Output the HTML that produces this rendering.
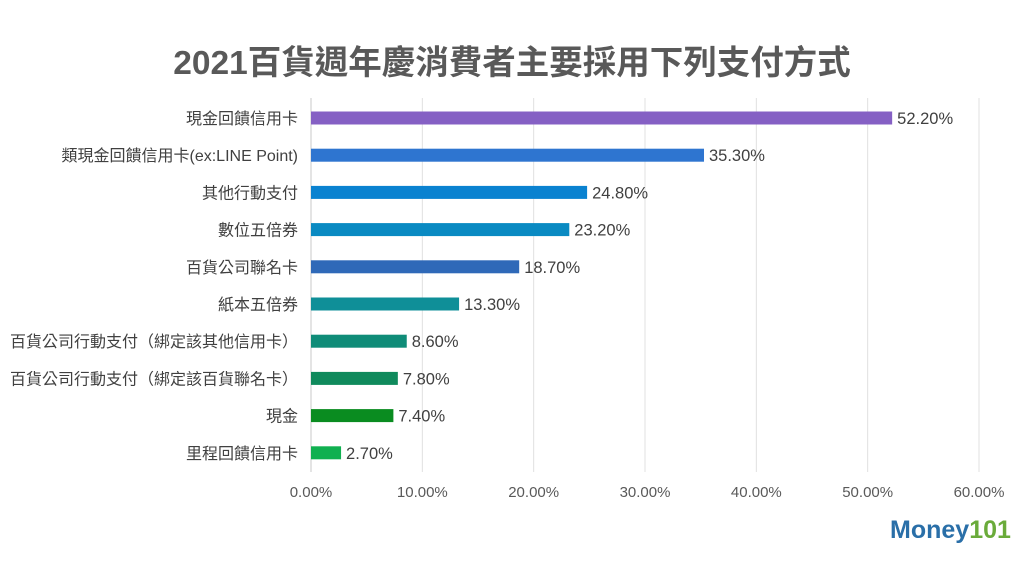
<!DOCTYPE html>
<html><head><meta charset="utf-8"><style>
body{margin:0;background:#fff;}
svg text{font-family:"Liberation Sans","Noto Sans CJK TC",sans-serif;}
</style></head><body>
<svg id="c" width="1024" height="560" viewBox="0 0 1024 560">
<text x="512" y="74" text-anchor="middle" font-size="33.5" font-weight="bold" fill="#595959">2021百貨週年慶消費者主要採用下列支付方式</text>
<g id="grid"></g><g id="bars"></g>
<g>
<text x="890" y="538" font-size="25" font-weight="bold" fill="#2a6fa8">Money<tspan fill="#6aab3a">101</tspan></text>
</g>
</svg>
<script>
const categories=["現金回饋信用卡","類現金回饋信用卡(ex:LINE Point)","其他行動支付","數位五倍券","百貨公司聯名卡","紙本五倍券","百貨公司行動支付（綁定該其他信用卡）","百貨公司行動支付（綁定該百貨聯名卡）","現金","里程回饋信用卡"];
const values=[52.2,35.3,24.8,23.2,18.7,13.3,8.6,7.8,7.4,2.7];
const colors=["#8560c4","#2e75d0","#0a82d0","#0a8ac2","#2f69b8","#0f8f98","#0f8c78","#108a5c","#0a8c20","#10b050"];
const ticks=[0,10,20,30,40,50,60];
const NS="http://www.w3.org/2000/svg";
const x0=311,x1=979,xmax=60,y0=118,step=37.2,bh=13;
const xs=v=>x0+(v/xmax)*(x1-x0);
const ys=i=>y0+i*step;
const g=document.getElementById('grid'),b=document.getElementById('bars');
function mk(t,a,p){const e=document.createElementNS(NS,t);for(const k in a)e.setAttribute(k,a[k]);p.appendChild(e);return e;}
ticks.forEach(t=>{
 const l=mk('line',{x1:xs(t),x2:xs(t),y1:98,y2:472,stroke:t===0?'#c8c8c8':'#e0e0e0','stroke-width':1},g);
 
 
 const tx=mk('text',{x:xs(t),y:497,'text-anchor':'middle','font-size':15,fill:'#595959'},g);
 tx.textContent=t.toFixed(2)+'%';
 
 
});
categories.forEach((c,i)=>{
 const y=ys(i);
 const r=mk('rect',{x:x0,y:y-bh/2,width:xs(values[i])-x0,height:bh,fill:colors[i]},b);
 
 
 const lb=mk('text',{x:298,y:y+6,'text-anchor':'end','font-size':16,fill:'#404040'},b);
 lb.textContent=c;
 
 
 const v=mk('text',{x:xs(values[i])+5,y:y+6,'font-size':16.5,fill:'#404040'},b);
 v.textContent=values[i].toFixed(2)+'%';
 
 
});
</script>
</body></html>
